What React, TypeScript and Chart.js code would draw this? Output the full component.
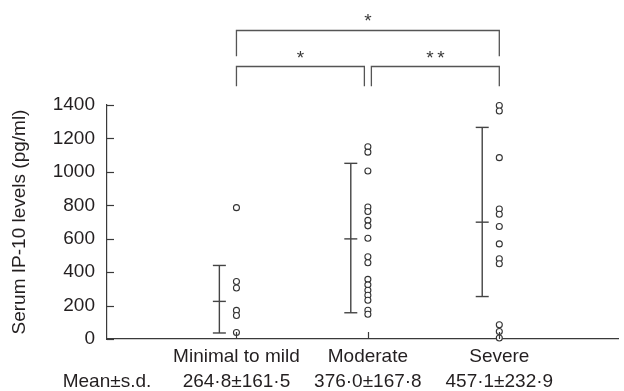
import React, { useEffect, useRef } from 'react';
import { Chart, registerables } from 'chart.js';

Chart.register(...registerables);

// ---------- data ----------
const categories = ['Minimal to mild', 'Moderate', 'Severe'];
const meanSdLabels = ['264·8±161·5', '376·0±167·8', '457·1±232·9'];
const meanSdRowLabel = 'Mean±s.d.';
const yAxisTitle = 'Serum IP-10 levels (pg/ml)';
const yTickValues = [0, 200, 400, 600, 800, 1000, 1200, 1400];

const minimalValues = [786, 344, 305, 171, 141, 39];
const moderateValues = [1150, 1118, 1005, 790, 763, 710, 677, 603, 492, 456, 357, 324, 292, 262, 232, 172, 148];
const severeValues = [1397, 1364, 1085, 778, 746, 673, 569, 480, 450, 85, 45, 6];
const groupValues = [minimalValues, moderateValues, severeValues];

// mean ± s.d. bars as drawn
const barMeans = [225, 599, 699];
const barLows = [36, 157, 254];
const barHighs = [440, 1051, 1266];

// significance comparisons (category indices)
const comparisonFrom = [0, 1, 0];
const comparisonTo = [1, 2, 2];
const comparisonLabels = ['*', '**', '*'];

// ---------- style ----------
const FONT = "'Liberation Sans', Arial, Helvetica, sans-serif";
const TEXT = '#231f20';
const LINE = '#3a3a3a';
const X_MIN = 0.015;
const X_MAX = 3.91;
const BAR_OFFSET = -0.13;
const CAP_HALF = 6.5;
// bracket rows in y-units: bar level, leg end, label baseline
const BRACKET_ROWS = [
  { bar: 1632, leg: 1512, label: 1706 },
  { bar: 1850, leg: 1692, label: 1927 },
];
const comparisonRow = [0, 0, 1];

const annotationPlugin = {
  id: 'annotations',
  afterDatasetsDraw(chart: any) {
    const { ctx, chartArea } = chart;
    const x = chart.scales.x;
    const y = chart.scales.y;
    const seg = (x1: number, y1: number, x2: number, y2: number) => {
      ctx.beginPath();
      ctx.moveTo(x1, y1);
      ctx.lineTo(x2, y2);
      ctx.stroke();
    };
    ctx.save();
    ctx.strokeStyle = LINE;
    ctx.lineWidth = 1.2;
    // inner y ticks
    yTickValues.forEach((v) => {
      const py = Math.round(y.getPixelForValue(v)) + 0.5;
      seg(chartArea.left, py, chartArea.left + 7, py);
    });
    // inner x ticks
    categories.forEach((_, i) => {
      const px = Math.round(x.getPixelForValue(i + 1)) + 0.5;
      seg(px, chartArea.bottom, px, chartArea.bottom - 7);
    });
    // mean ± s.d. bars
    ctx.lineWidth = 1.4;
    ctx.strokeStyle = '#444';
    categories.forEach((_, i) => {
      const px = x.getPixelForValue(i + 1 + BAR_OFFSET);
      const pl = y.getPixelForValue(barLows[i]);
      const ph = y.getPixelForValue(barHighs[i]);
      const pm = y.getPixelForValue(barMeans[i]);
      seg(px, pl, px, ph);
      seg(px - CAP_HALF, pl, px + CAP_HALF, pl);
      seg(px - CAP_HALF, ph, px + CAP_HALF, ph);
      seg(px - CAP_HALF, pm, px + CAP_HALF, pm);
    });
    // significance brackets
    ctx.lineWidth = 1.3;
    ctx.strokeStyle = '#555';
    ctx.fillStyle = '#3a3a3a';
    ctx.font = `19px ${FONT}`;
    ctx.textAlign = 'center';
    ctx.textBaseline = 'alphabetic';
    comparisonLabels.forEach((lab, k) => {
      const row = BRACKET_ROWS[comparisonRow[k]];
      let x1 = x.getPixelForValue(comparisonFrom[k] + 1);
      let x2 = x.getPixelForValue(comparisonTo[k] + 1);
      if (comparisonRow[k] === 0) {
        if (comparisonFrom[k] === 1) x1 += 3.5;
        if (comparisonTo[k] === 1) x2 -= 3.5;
      }
      const pb = Math.round(y.getPixelForValue(row.bar)) + 0.5;
      const pl = y.getPixelForValue(row.leg);
      ctx.beginPath();
      ctx.moveTo(x1, pl);
      ctx.lineTo(x1, pb);
      ctx.lineTo(x2, pb);
      ctx.lineTo(x2, pl);
      ctx.stroke();
      const cx = (x1 + x2) / 2;
      const by = y.getPixelForValue(row.label) + 10;
      const n = lab.length;
      const step = 11;
      for (let c = 0; c < n; c++) {
        ctx.fillText(lab[c], cx + (c - (n - 1) / 2) * step, by);
      }
    });
    ctx.restore();
  },
};

export default function App() {
  const canvasRef = useRef<HTMLCanvasElement | null>(null);

  useEffect(() => {
    if (!canvasRef.current) return;
    Chart.defaults.font.family = FONT;
    const chart = new Chart(canvasRef.current, {
      type: 'scatter',
      data: {
        datasets: groupValues.map((vals, i) => ({
          label: categories[i],
          data: vals.map((v) => ({ x: i + 1, y: v })),
          pointStyle: 'circle',
          pointRadius: 3,
          pointBorderWidth: 1.1,
          pointBorderColor: '#333',
          pointBackgroundColor: '#ffffff',
          showLine: false,
          clip: false as any,
        })),
      },
      options: {
        animation: false,
        responsive: false,
        maintainAspectRatio: false,
        layout: { padding: { top: 105, left: 0, right: 1, bottom: 0 } },
        plugins: { legend: { display: false }, tooltip: { enabled: false } },
        scales: {
          x: {
            type: 'linear',
            min: X_MIN,
            max: X_MAX,
            afterBuildTicks: (s: any) => {
              s.ticks = [{ value: X_MIN }, { value: 1 }, { value: 2 }, { value: 3 }];
            },
            afterFit: (s: any) => {
              s.height = 52;
            },
            ticks: {
              autoSkip: false,
              maxRotation: 0,
              minRotation: 0,
              padding: 5,
              color: TEXT,
              font: { size: 19, lineHeight: 1.32 },
              callback: (_v: any, idx: number) =>
                idx === 0 ? ['', meanSdRowLabel] : [categories[idx - 1], meanSdLabels[idx - 1]],
            },
            grid: { drawOnChartArea: false, drawTicks: false },
            border: { display: true, color: LINE, width: 1.2 },
          },
          y: {
            min: 0,
            max: 1400,
            afterBuildTicks: (s: any) => {
              s.ticks = yTickValues.map((v) => ({ value: v }));
            },
            afterFit: (s: any) => {
              s.width = 107;
            },
            ticks: {
              color: TEXT,
              padding: 12,
              font: { size: 19 },
              callback: (v: any) => String(v),
            },
            grid: { drawOnChartArea: false, drawTicks: false },
            border: { display: true, color: LINE, width: 1.2 },
            title: {
              display: true,
              text: yAxisTitle,
              color: TEXT,
              font: { size: 19, lineHeight: 1.2 },
              padding: { top: 8.6, bottom: 0 },
            },
          },
        },
      },
      plugins: [annotationPlugin],
    });
    return () => chart.destroy();
  }, []);

  return (
    <div style={{ position: 'fixed', left: 0, top: 0, width: 624, height: 391, background: '#fff' }}>
      <canvas ref={canvasRef} width={624} height={391} style={{ display: 'block' }} />
    </div>
  );
}
